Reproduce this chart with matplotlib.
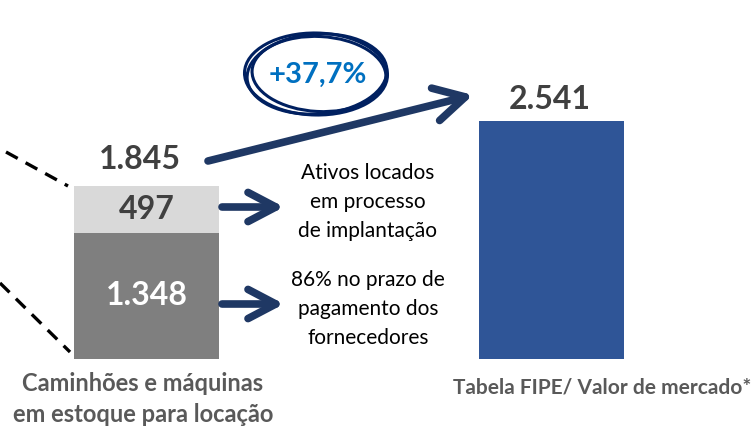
import matplotlib.pyplot as plt
from matplotlib.patches import Ellipse

# data
categories = ['Caminhões e máquinas\nem estoque para locação', 'Tabela FIPE/ Valor de mercado*']
base_vals = [1348, 2541]
top_vals = [497, 0]
base_labels = ['1.348', '']
top_labels = ['497', '']
total_labels = ['1.845', '2.541']
growth_label = '+37,7%'
note_top = 'Ativos locados\nem processo\nde implantação'
note_bottom = '86% no prazo de\npagamento dos\nfornecedores'

plt.rcParams['font.family'] = ['Lato', 'DejaVu Sans']

fig = plt.figure(figsize=(7.51, 4.28), dpi=100)

# bars in value units
ax = fig.add_axes([0, 0, 1, 1])
ax.set_xlim(0, 751)
ax.set_ylim(-735.6, 3827)
ax.axis('off')

xpos = [146.5, 551.5]
base_colors = ['#7F7F7F', '#2F5597']
ax.bar(xpos, base_vals, width=145, color=base_colors)
ax.bar(xpos, top_vals, bottom=base_vals, width=145, color='#D9D9D9')

label_dx = [-7, -2]
label_dy = [8.5, 5]
for i in range(2):
    total = base_vals[i] + top_vals[i]
    ax.annotate(total_labels[i], (xpos[i] + label_dx[i], total), xytext=(0, label_dy[i]),
                textcoords='offset points', ha='center', va='bottom',
                fontsize=23, fontweight='bold', color='#404040')
    if base_labels[i]:
        ax.text(xpos[i], base_vals[i] / 2, base_labels[i], ha='center', va='center',
                fontsize=23, fontweight='bold', color='white')
    if top_labels[i]:
        ax.text(xpos[i], base_vals[i] + top_vals[i] / 2, top_labels[i], ha='center',
                va='center', fontsize=23, fontweight='bold', color='#404040')

# decorations in pixel units
ov = fig.add_axes([0, 0, 1, 1])
ov.set_xlim(0, 751)
ov.set_ylim(428, 0)
ov.axis('off')
ov.patch.set_alpha(0)

ov.text(143, 399, categories[0], ha='center', va='center', fontsize=17,
        fontweight='bold', color='#595959', linespacing=1.4)
ov.text(602, 387, categories[1], ha='center', va='center', fontsize=15,
        fontweight='bold', color='#595959')

ov.text(368, 202, note_top, ha='center', va='center', fontsize=15,
        color='black', linespacing=1.55)
ov.text(368, 309, note_bottom, ha='center', va='center', fontsize=15,
        color='black', linespacing=1.55)

navy = '#1F3864'
ov.annotate('', xy=(473, 95), xytext=(208, 161),
            arrowprops=dict(arrowstyle='->,head_length=2.2,head_width=1.2',
                            lw=5.5, color=navy, capstyle='round', joinstyle='round',
                            shrinkA=0, shrinkB=0, mutation_scale=10))
for y in (207, 304):
    ov.annotate('', xy=(284, y), xytext=(222, y),
                arrowprops=dict(arrowstyle='->,head_length=2.0,head_width=1.05',
                                lw=5.5, color=navy, capstyle='round', joinstyle='round',
                                shrinkA=0, shrinkB=0, mutation_scale=10))

# hand-drawn circle around growth
for w, h, a, dx in [(140, 80, -4, 0), (134, 75, 3, 2), (143, 82, 1, -1)]:
    ov.add_patch(Ellipse((317 + dx, 74), w, h, angle=a, fill=False, lw=2.2, color='#002060'))
ov.text(318, 75, growth_label, ha='center', va='center', fontsize=21,
        fontweight='bold', color='#0070C0')

# dashed connectors
ov.plot([6, 68], [152, 186], ls=(0, (4, 2.7)), lw=2.4, color='black')
ov.plot([0, 70], [283, 352], ls=(0, (4, 2.7)), lw=2.4, color='black')

fig.savefig('out.png', dpi=100)
